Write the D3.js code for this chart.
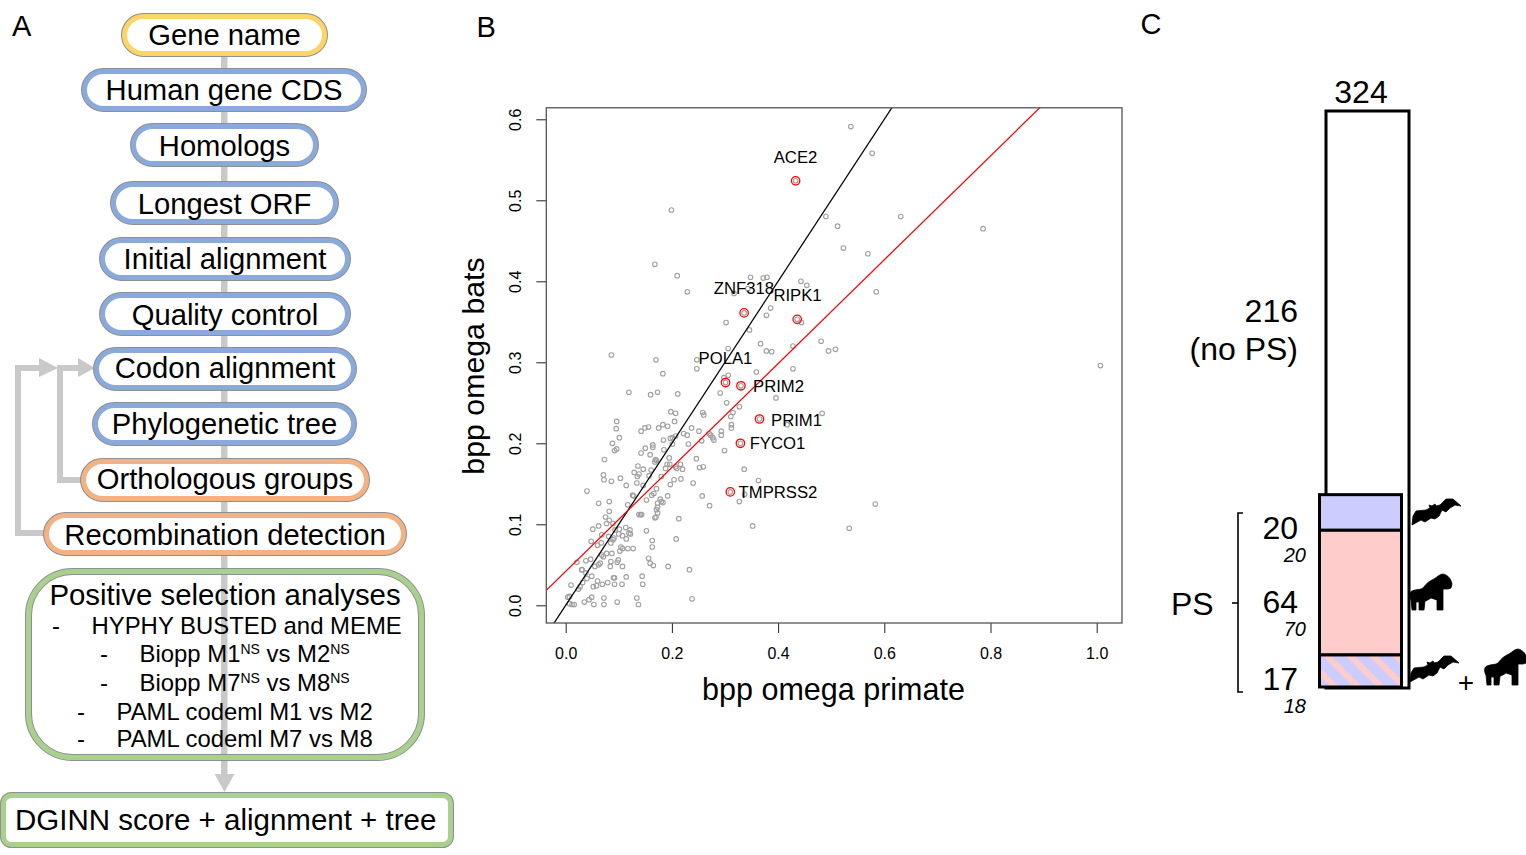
<!DOCTYPE html>
<html>
<head>
<meta charset="utf-8">
<script src="https://cdn.jsdelivr.net/npm/d3@7"></script>
<style>
html, body { margin: 0; padding: 0; background: #fff; }
svg { display: block; }
text { font-family: "Liberation Sans", Arial, sans-serif; fill: #000; }
</style>
</head>
<body>
<div id="chart"></div>
<script>
// panel A labels
var flowLabels = ["Gene name", "Human gene CDS", "Homologs", "Longest ORF", "Initial alignment",
    "Quality control", "Codon alignment", "Phylogenetic tree", "Orthologous groups", "Recombination detection"];
var flowGroups = ["input", "prep", "prep", "prep", "prep", "prep", "prep", "prep", "extra", "extra"];
var analysesTitle = "Positive selection analyses";
var analysesLines = [
    [["HYPHY BUSTED and MEME", false]],
    [["Biopp M1", false], ["NS", true], [" vs M2", false], ["NS", true]],
    [["Biopp M7", false], ["NS", true], [" vs M8", false], ["NS", true]],
    [["PAML codeml M1 vs M2", false]],
    [["PAML codeml M7 vs M8", false]]
];
var outputLabel = "DGINN score + alignment + tree";

// panel B: [bpp omega primate, bpp omega bats]
var omegaPairs = [
    [.170,.303],[.247,.303],[.247,.292],[.428,.292],[.183,.286],[.359,.288],[.298,.281],[.306,.284],[.119,.263],[.160,.260],
    [.173,.263],[.211,.261],[.291,.262],[.396,.256],[.303,.250],[.327,.245],[.198,.239],[.207,.237],[.258,.238],[.260,.235],
    [.315,.238],[.311,.233],[.483,.237],[.417,.223],[.096,.227],[.095,.218],[.205,.227],[.183,.223],[.192,.221],[.175,.219],
    [.156,.220],[.149,.219],[.142,.215],[.237,.219],[.251,.215],[.222,.212],[.229,.210],[.312,.223],[.312,.219],[.293,.215],
    [.293,.210],[.270,.212],[.273,.210],[.277,.207],[.279,.204],[.207,.209],[.201,.207],[.197,.206],[.101,.207],[.088,.200],
    [.184,.204],[.256,.203],[.231,.199],[.201,.199],[.164,.198],[.164,.195],[.150,.194],[.096,.193],[.092,.191],[.185,.192],
    [.142,.188],[.159,.186],[.299,.191],[.246,.181],[.073,.180],[.195,.182],[.169,.180],[.171,.179],[.168,.177],[.191,.174],
    [.196,.174],[.216,.174],[.188,.169],[.136,.172],[.146,.168],[.161,.167],[.207,.171],[.209,.169],[.220,.168],[.252,.170],
    [.259,.171],[.336,.168],[.129,.164],[.138,.162],[.135,.159],[.157,.160],[.071,.161],[.072,.155],[.086,.153],[.103,.157],
    [.180,.159],[.204,.155],[.217,.156],[.240,.151],[.363,.154],[.134,.151],[.146,.148],[.114,.148],[.197,.149],[.171,.144],
    [.166,.138],[.162,.136],[.040,.141],[.126,.136],[.128,.135],[.192,.135],[.337,.137],[.257,.135],[.327,.128],[.082,.128],
    [.062,.126],[.152,.130],[.178,.131],[.180,.128],[.173,.126],[.183,.127],[.117,.124],[.173,.121],[.171,.118],[.271,.123],
    [.082,.116],[.138,.112],[.141,.112],[.143,.112],[.173,.114],[.168,.108],[.170,.109],[.075,.109],[.213,.107],[.082,.105],
    [.077,.101],[.062,.098],[.352,.098],[.051,.094],[.089,.101],[.113,.096],[.101,.094],[.093,.093],[.121,.093],[.119,.089],
    [.122,.088],[.152,.092],[.100,.088],[.107,.086],[.068,.087],[.091,.083],[.089,.081],[.081,.085],[.114,.082],[.208,.082],
    [.163,.080],[.048,.079],[.085,.077],[.067,.077],[.060,.074],[.104,.072],[.107,.070],[.117,.070],[.127,.070],[.163,.072],
    [.102,.067],[.087,.064],[.077,.064],[.071,.060],[.068,.062],[.047,.057],[.038,.055],[.021,.053],[.156,.058],[.159,.052],
    [.165,.049],[.193,.048],[.233,.044],[.099,.056],[.097,.053],[.085,.054],[.084,.048],[.107,.048],[.065,.052],[.062,.050],
    [.055,.048],[.030,.044],[.031,.044],[.038,.040],[.049,.036],[.040,.033],[.090,.034],[.092,.034],[.114,.035],[.144,.036],
    [.060,.030],[.079,.028],[.032,.028],[.027,.023],[.024,.020],[.010,.025],[.058,.024],[.052,.023],[.069,.026],[.092,.026],
    [.106,.026],[.145,.026],[.238,.008],[.134,.009],[.004,.010],[.007,.011],[.049,.010],[.044,.007],[.035,.004],[.072,.009],
    [.072,.001],[.053,.001],[.097,.004],[.137,.001],[.007,.002],[.012,.001],[.016,.001],
    [.199,.488],[.168,.421],[.210,.407],[.229,.387],[.348,.405],[.372,.404],[.379,.405],[.443,.400],[.454,.395],[.343,.391],
    [.317,.385],[.386,.367],[.378,.358],[.302,.349],[.444,.349],[.346,.340],[.367,.323],[.481,.326],[.495,.314],[.508,.316],
    [.378,.314],[.388,.313],[.428,.320],[.306,.317],[.086,.309],
    [.490,.480],[.537,.591],[.577,.558],[.631,.480],[.786,.465],[.512,.468],[.523,.441],[.569,.434],[.585,.387],[1.007,.296],
    [.583,.125],[.534,.095]
];
var geneNames = ["ACE2", "ZNF318", "RIPK1", "POLA1", "PRIM2", "PRIM1", "FYCO1", "TMPRSS2"];
var genePrimate = [.433, .336, .436, .301, .330, .365, .329, .310];
var geneBats = [.524, .361, .353, .275, .271, .230, .200, .140];
var xTickValues = [0, .2, .4, .6, .8, 1];
var yTickValues = [0, .1, .2, .3, .4, .5, .6];
var identityLine = { slope: 1, intercept: 0 };
var fitLine = { slope: .641, intercept: .042 };

// panel C
var totalGenes = 324;
var noPsGenes = 216;
var psCounts = [20, 64, 17];
var psCountsItalic = [20, 70, 18];

var flowColor = { input: "#fcd566", prep: "#8aaadc", extra: "#f4b183", final: "#a9d18e" };

var svg = d3.select("#chart").append("svg")
    .attr("width", 1526)
    .attr("height", 855);

function panelLetter(s, x, y) {
    svg.append("text").attr("x", x).attr("y", y).attr("font-size", 29).text(s);
}
panelLetter("A", 12, 36);
panelLetter("B", 476.5, 37);
panelLetter("C", 1140.5, 34);

// ---- panel A ----
var flow = svg.append("g");
var grey = "#c9c9c9";
flow.append("rect").attr("x", 221).attr("y", 50).attr("width", 6.5).attr("height", 725).attr("fill", grey);
flow.append("path").attr("d", d3.line()([[214.5, 774], [234.5, 774], [224.5, 792]])).attr("fill", grey);

// feedback arrows
var loop = d3.line();
flow.append("path").attr("d", loop([[45, 533], [18, 533], [18, 368], [42, 368]]))
    .attr("fill", "none").attr("stroke", grey).attr("stroke-width", 6);
flow.append("path").attr("d", loop([[82, 480], [60, 480], [60, 368], [80, 368]]))
    .attr("fill", "none").attr("stroke", grey).attr("stroke-width", 6);
flow.append("path").attr("d", loop([[39, 358], [58, 368], [39, 377]])).attr("fill", grey);
flow.append("path").attr("d", loop([[78, 358], [95, 368], [78, 377]])).attr("fill", grey);

var boxLeft = [121, 81, 130, 110, 99, 99, 93, 92, 80, 43];
var boxRight = [328, 367, 319, 339, 351, 351, 357, 357, 370, 407];
var boxTop = [13, 68, 123, 181, 237, 292, 347, 402, 458, 512];
var boxBaseline = [44.5, 99.5, 155.5, 213.5, 268.5, 324.5, 378, 434, 489, 545];
var boxHeight = 44;

function flowBox(x0, x1, y0, y1, r, color, fill) {
    var g = flow.append("g");
    [["#8f8f8f", 7], [color, 5]].forEach(function(s) {
        g.append("rect")
            .attr("x", x0 + 3.5).attr("y", y0 + 3.5)
            .attr("width", x1 - x0 - 7).attr("height", y1 - y0 - 7)
            .attr("rx", r).attr("ry", r)
            .attr("fill", fill)
            .attr("stroke", s[0]).attr("stroke-width", s[1]);
    });
}

flowLabels.forEach(function(label, i) {
    flowBox(boxLeft[i], boxRight[i], boxTop[i], boxTop[i] + boxHeight, 19, flowColor[flowGroups[i]], "#fff");
    flow.append("text")
        .attr("x", (boxLeft[i] + boxRight[i]) / 2)
        .attr("y", boxBaseline[i])
        .attr("text-anchor", "middle")
        .attr("font-size", 29.2)
        .text(label);
});

flowBox(25, 425, 568, 761, 44, flowColor.final, "none");
flow.append("text").attr("x", 225).attr("y", 605).attr("text-anchor", "middle")
    .attr("font-size", 29.4).text(analysesTitle);

var dashX = [52, 100, 100, 77, 77];
var lineX = [91.5, 139.5, 139.5, 116.5, 116.5];
var lineY = [634, 662, 691, 720, 747];
analysesLines.forEach(function(parts, i) {
    flow.append("text").attr("x", dashX[i]).attr("y", lineY[i]).attr("font-size", 23.9).text("-");
    var t = flow.append("text").attr("x", lineX[i]).attr("y", lineY[i]).attr("font-size", 23.9);
    var lastSup = false;
    parts.forEach(function(p) {
        var span = t.append("tspan").text(p[0]);
        if (p[1]) {
            span.attr("font-size", 14).attr("dy", -8);
        } else if (lastSup) {
            span.attr("dy", 8);
        }
        lastSup = p[1];
    });
});

flowBox(0, 454, 792, 848, 8, flowColor.final, "#fff");
flow.append("text").attr("x", 15).attr("y", 830).attr("font-size", 29.5).text(outputLabel);

// ---- panel B ----
var plot = { left: 546.3, right: 1122, top: 107.8, bottom: 623 };
var x = d3.scaleLinear()
    .domain([(plot.left - 565.7) / 531, (plot.right - 565.7) / 531])
    .range([plot.left, plot.right]);
var y = d3.scaleLinear()
    .domain([(605.3 - plot.bottom) / 810, (605.3 - plot.top) / 810])
    .range([plot.bottom, plot.top]);

svg.append("defs").append("clipPath")
    .attr("id", "clip")
    .append("rect")
    .attr("x", plot.left).attr("y", plot.top)
    .attr("width", plot.right - plot.left)
    .attr("height", plot.bottom - plot.top);

var xAxis = d3.axisBottom(x).tickValues(xTickValues).tickSize(10).tickPadding(10).tickSizeOuter(0)
    .tickFormat(d3.format(".1f"));
var yAxis = d3.axisLeft(y).tickValues(yTickValues).tickSize(10).tickPadding(0).tickSizeOuter(0)
    .tickFormat(d3.format(".1f"));

var gx = svg.append("g").attr("transform", "translate(0," + plot.bottom + ")").call(xAxis);
var gy = svg.append("g").attr("transform", "translate(" + plot.left + ",0)").call(yAxis);
gx.selectAll(".domain").remove();
gy.selectAll(".domain").remove();
gx.selectAll("line").attr("stroke", "#222");
gy.selectAll("line").attr("stroke", "#222");
gx.selectAll("text").attr("font-size", 16).attr("font-family", null).attr("y", 25);
gy.selectAll("text")
    .attr("font-size", 16)
    .attr("text-anchor", "middle")
    .attr("dy", null)
    .attr("x", null)
    .attr("transform", function() { return "translate(-25,0) rotate(-90)"; });

var scatter = svg.append("g");
scatter.selectAll("circle.pt")
    .data(omegaPairs)
    .enter().append("circle")
    .attr("class", "pt")
    .attr("cx", function(d) { return x(d[0]); })
    .attr("cy", function(d) { return y(d[1]); })
    .attr("r", 2.3)
    .attr("fill", "none")
    .attr("stroke", "#a0a0a0")
    .attr("stroke-width", 1.1);

var ablines = svg.append("g").attr("clip-path", "url(#clip)");
[[identityLine, "#000"], [fitLine, "#ff0000"]].forEach(function(l) {
    var xs = x.domain();
    ablines.append("line")
        .attr("x1", x(xs[0])).attr("y1", y(l[0].intercept + l[0].slope * xs[0]))
        .attr("x2", x(xs[1])).attr("y2", y(l[0].intercept + l[0].slope * xs[1]))
        .attr("stroke", l[1]).attr("stroke-width", 1.25);
});

geneNames.forEach(function(name, i) {
    var cx = x(genePrimate[i]), cy = y(geneBats[i]);
    scatter.append("circle").attr("cx", cx).attr("cy", cy).attr("r", 2.3)
        .attr("fill", "none").attr("stroke", "#a0a0a0").attr("stroke-width", 1.1);
    scatter.append("circle").attr("cx", cx).attr("cy", cy).attr("r", 4.2)
        .attr("fill", "none").attr("stroke", "#ff0000").attr("stroke-width", 1.3);
});
var labelPos = [[795.5, 163], [744, 294], [797.5, 301], [725.5, 364], [778.5, 392], [796.5, 426], [777.5, 449], [778, 498]];
geneNames.forEach(function(name, i) {
    svg.append("text").attr("x", labelPos[i][0]).attr("y", labelPos[i][1])
        .attr("text-anchor", "middle").attr("font-size", 16.7).text(name);
});

svg.append("rect")
    .attr("x", plot.left).attr("y", plot.top)
    .attr("width", plot.right - plot.left).attr("height", plot.bottom - plot.top)
    .attr("fill", "none").attr("stroke", "#555").attr("stroke-width", 1.3);

svg.append("text").attr("x", 833.5).attr("y", 700).attr("text-anchor", "middle")
    .attr("font-size", 30.5).text("bpp omega primate");
svg.append("text").attr("transform", "translate(484,366) rotate(-90)").attr("text-anchor", "middle")
    .attr("font-size", 30.3).text("bpp omega bats");

// ---- panel C ----
var yC = d3.scaleLinear().domain([0, totalGenes]).range([688, 111]);
var defs = svg.select("defs");
var hatch = defs.append("pattern")
    .attr("id", "hatch")
    .attr("patternUnits", "userSpaceOnUse")
    .attr("width", 16.3).attr("height", 16.3)
    .attr("patternTransform", "translate(1322,655) rotate(-45)");
hatch.append("rect").attr("width", 16.3).attr("height", 16.3).attr("fill", "#ccccff");
hatch.append("rect").attr("width", 6).attr("height", 16.3).attr("fill", "#ffcccc");

svg.append("rect")
    .attr("x", 1326).attr("y", yC(totalGenes))
    .attr("width", 83).attr("height", yC(0) - yC(totalGenes))
    .attr("fill", "#fff").attr("stroke", "#000").attr("stroke-width", 3);

var stackFill = ["#ccccff", "#ffcccc", "url(#hatch)"];
var stackTop = totalGenes - noPsGenes;
psCountsItalic.forEach(function(n, i) {
    svg.append("rect")
        .attr("x", 1319.5).attr("y", yC(stackTop) - 1)
        .attr("width", 82).attr("height", yC(stackTop - n) - yC(stackTop))
        .attr("fill", stackFill[i])
        .attr("stroke", "#000").attr("stroke-width", 3);
    stackTop -= n;
});

function cText(s, xp, yp, size, anchor, italic) {
    svg.append("text").attr("x", xp).attr("y", yp).attr("font-size", size)
        .attr("text-anchor", anchor).attr("font-style", italic ? "italic" : null).text(s);
}
cText(String(totalGenes), 1361, 103, 32, "middle");
cText(String(noPsGenes), 1298, 322, 32, "end");
cText("(no PS)", 1298, 360, 32, "end");
cText("PS", 1171, 615, 32, "start");
cText("+", 1466, 692, 28, "middle");

var countY = [539, 613, 690];
var italicY = [562, 636, 713];
psCounts.forEach(function(n, i) {
    cText(String(n), 1298, countY[i], 32, "end");
    cText(String(psCountsItalic[i]), 1306, italicY[i], 20, "end", true);
});

svg.append("path")
    .attr("d", d3.line()([[1243, 513], [1238, 513], [1238, 692], [1243, 692]]))
    .attr("fill", "none").attr("stroke", "#000").attr("stroke-width", 1.6);
svg.append("path")
    .attr("d", d3.line()([[1232, 603], [1238, 603]]))
    .attr("fill", "none").attr("stroke", "#000").attr("stroke-width", 1.6);

// silhouettes
var batPath = "M0,26 L1,17 L4,12 L14,11 L18,9 L17,6 L20,7 L23,5 L24,7 L28,6 L34,0 L41,0 L49,7 L43,6 L38,9 L34,13 L30,11 L27,17 L23,20 L19,19 L13,23 L9,21 Z";
var gorillaPath = "M33,0 C38,1 41,5 42,10 L41,14 L38,15 L33,15 L33,36 L27,36 L27,26 L21,24 C18,26 16,27 15,27 L14,36 L9,36 L9,28 L6,28 L6,36 L2,36 L1,26 C-1,23 -1,18 2,17 C6,15 11,16 13,14 C16,10 19,7 24,5 C27,3 30,0 33,0 Z";
[[batPath, 1412, 499], [gorillaPath, 1410, 574], [batPath, 1410, 656], [gorillaPath, 1485, 649]].forEach(function(s) {
    svg.append("path").attr("d", s[0]).attr("transform", "translate(" + s[1] + "," + s[2] + ")")
        .attr("fill", "#000").attr("stroke", "#000").attr("stroke-width", 0.8).attr("stroke-linejoin", "round");
});
</script>
</body>
</html>
